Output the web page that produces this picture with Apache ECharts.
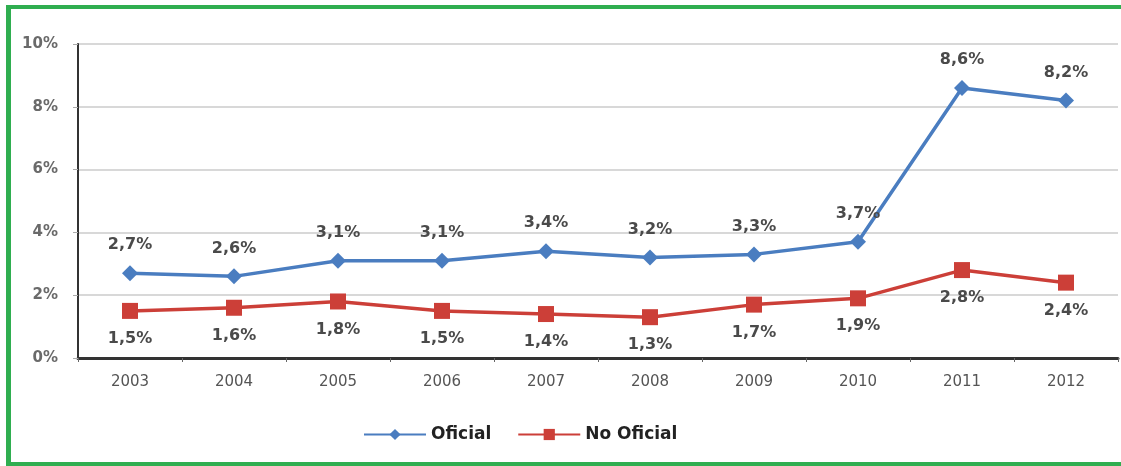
<!DOCTYPE html>
<html><head><meta charset="utf-8">
<script src="https://cdn.jsdelivr.net/npm/echarts@6/dist/echarts.min.js"></script>
<style>
html,body{margin:0;padding:0;background:#fff;width:1121px;height:466px;overflow:hidden}
#frame{position:absolute;left:6px;top:5px;width:1200px;height:453px;border-left:5px solid #2fae50;border-top:4px solid #2fae50;border-bottom:4px solid #2fae50;}
#c{position:absolute;left:0;top:0;width:1121px;height:466px}
</style></head>
<body>
<div id="frame"></div>
<div id="c"></div>
<script>
const years = ['2003','2004','2005','2006','2007','2008','2009','2010','2011','2012'];
const oficial = [2.7,2.6,3.1,3.1,3.4,3.2,3.3,3.7,8.6,8.2];
const noOficial = [1.5,1.6,1.8,1.5,1.4,1.3,1.7,1.9,2.8,2.4];
const yTicks = [0,2,4,6,8,10];

const fmt = v => String(v).replace('.', ',') + '%';
const chart = echarts.init(document.getElementById('c'));
const labelFont = {fontFamily:'DejaVu Sans', fontWeight:'bold', fontSize:16, color:'#4a4a4a'};
chart.setOption({
  animation:false,
  grid:{left:78,right:3,top:44,bottom:108,containLabel:false},
  legend:{
    bottom:18,left:358,itemGap:26,itemWidth:62,itemHeight:14,
    textStyle:{fontFamily:'DejaVu Sans',fontWeight:'bold',fontSize:17,color:'#222'},
    data:['Oficial','No Oficial']
  },
  xAxis:{
    type:'category',data:years,boundaryGap:true,
    axisLine:{lineStyle:{color:'#333',width:3}},
    axisTick:{show:true,length:4,lineStyle:{color:'#666'}},
    axisLabel:{fontFamily:'DejaVu Sans',fontSize:15,color:'#555',margin:17}
  },
  yAxis:{
    type:'value',min:0,max:10,interval:2,
    axisLine:{show:true,lineStyle:{color:'#333',width:2}},
    axisTick:{show:true,length:5,lineStyle:{color:'#aaa'}},
    splitLine:{lineStyle:{color:'#d8d8d8',width:2}},
    axisLabel:{fontFamily:'DejaVu Sans',fontSize:15,fontWeight:'bold',color:'#6a6a6a',margin:20,
      formatter:v=>yTicks.includes(v)?v+'%':''}
  },
  series:[
    {name:'Oficial',type:'line',data:oficial,symbol:'diamond',symbolSize:16,
     itemStyle:{color:'#4a7dc0'},lineStyle:{color:'#4a7dc0',width:3.5},
     label:{show:true,position:'top',distance:12,formatter:p=>fmt(p.value),...labelFont}},
    {name:'No Oficial',type:'line',data:noOficial,symbol:'rect',symbolSize:16,
     itemStyle:{color:'#cc3f38'},lineStyle:{color:'#cc3f38',width:3.5},
     label:{show:true,position:'bottom',distance:12,formatter:p=>fmt(p.value),...labelFont}}
  ]
});
</script>
</body></html>
